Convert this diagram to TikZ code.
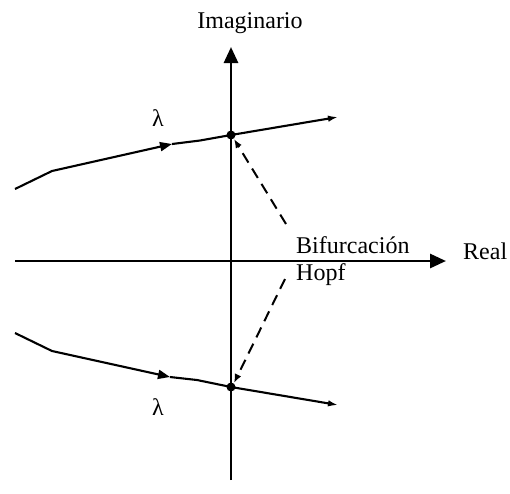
\documentclass[tikz,border=0pt]{standalone}
\usepackage{fontspec}
\setmainfont{Liberation Serif}
\usetikzlibrary{arrows.meta}
\begin{document}
\begin{tikzpicture}[x=1pt,y=-1pt,
  axis/.style={line width=2.8pt,-{Triangle[length=16pt,width=14pt]}},
  curve/.style={line width=2.1pt},
  curvetip/.style={curve,-{Latex[length=10pt,width=6.5pt]}},
  midtip/.style={curve,-{Triangle[length=12pt,width=9pt]}},
  hopfline/.style={line width=2pt,dash pattern=on 11pt off 7pt,-{Latex[length=9pt,width=7pt]}},
  lbl/.style={font=\fontsize{24}{28}\selectfont,inner sep=0pt}]
\useasboundingbox (0,0) rectangle (510,493);
% axes
\coordinate (vb) at (231,480);
\coordinate (vt) at (231,47);
\coordinate (hl) at (15,261);
\coordinate (hr) at (446,261);
\draw[axis] (vb) -- (vt);
\draw[axis] (hl) -- (hr);
\node[lbl,anchor=base] (imag) at (250,28) {Imaginario};
\node[lbl,anchor=base west] (real) at (463,259) {Real};
% upper branch
\coordinate (u0) at (15,189);
\coordinate (u1) at (52,171);
\coordinate (um) at (172,144);
\coordinate (u2) at (200,140.5);
\coordinate (ud) at (231,135);
\coordinate (ue) at (338,117);
\draw[midtip] (u0) -- (u1) -- (um);
\draw[curve] (um) -- (u2) -- (ud);
\draw[curvetip] (ud) -- (ue);
\fill (ud) circle (4.5pt);
\node[lbl] (lu) at (158,118) {λ};
% lower branch
\coordinate (l0) at (15,333);
\coordinate (l1) at (52,351);
\coordinate (lm) at (170,377);
\coordinate (l2) at (197,380);
\coordinate (ld) at (231,387);
\coordinate (le) at (338,405);
\draw[midtip] (l0) -- (l1) -- (lm);
\draw[curve] (lm) -- (l2) -- (ld);
\draw[curvetip] (ld) -- (le);
\fill (ld) circle (4.5pt);
\node[lbl] (ll) at (158,407) {λ};
% labels
\node[lbl,anchor=base west] (bif) at (296,253) {Bifurcación};
\node[lbl,anchor=base west] (hopf) at (296,280) {Hopf};
\coordinate (du) at (286,224);
\coordinate (dl) at (285,279);
\draw[hopfline] (du) -- (234,139);
\draw[hopfline] (dl) -- (234,383);
\end{tikzpicture}
\end{document}
